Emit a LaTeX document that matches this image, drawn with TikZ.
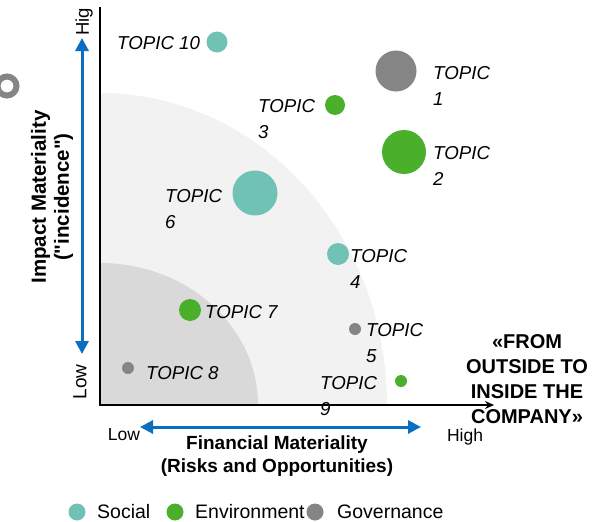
\documentclass[tikz,border=0pt]{standalone}
\usepackage{fontspec}
\setmainfont{Liberation Sans}[Ligatures=TeXOff]
\usetikzlibrary{arrows.meta}
\definecolor{socialc}{HTML}{70C2B4}
\definecolor{envc}{HTML}{4AB02C}
\definecolor{govc}{HTML}{858585}
\definecolor{zoneA}{HTML}{F2F2F2}
\definecolor{zoneB}{HTML}{D9D9D9}
\definecolor{axisblue}{HTML}{0A6FC2}
\begin{document}
\begin{tikzpicture}[x=1pt,y=-1pt,
  bub/.style={circle,inner sep=0pt,draw=none},
  topiclbl/.style={font=\fontsize{18.7}{26}\selectfont\itshape,inner sep=0pt,align=left,anchor=west},
  ticklbl/.style={font=\fontsize{17.5}{20}\selectfont,inner sep=0pt},
  titlelbl/.style={font=\fontsize{19}{23}\selectfont\bfseries,inner sep=0pt,align=center},
  bluearrow/.style={draw=axisblue,line width=3pt,{Triangle[length=13pt,width=13pt]}-{Triangle[length=13pt,width=13pt]}},
  legendtxt/.style={font=\fontsize{19.5}{22}\selectfont,inner sep=0pt,anchor=west}]
\useasboundingbox (0,0) rectangle (608,522);
% zones
\begin{scope}
  \clip (100,0) rectangle (608,405);
  \fill[zoneA] (100,405) ellipse [x radius=287, y radius=312];
  \fill[zoneB] (100,405) ellipse [x radius=158, y radius=142];
\end{scope}
% ring at left
\draw[govc,line width=6pt] (7,86) circle [radius=9.5];
% axes
\coordinate (ytop) at (100,7);
\coordinate (orig) at (100,405);
\coordinate (xend) at (494,405);
\draw[line width=1.3pt,-{Stealth[length=9pt,width=8pt]}] (ytop) -- (orig) -- (xend);
% blue arrows
\coordinate (vb1) at (82,38);
\coordinate (vb2) at (82,354);
\draw[bluearrow] (vb1) -- (vb2);
\coordinate (hb1) at (140,427);
\coordinate (hb2) at (421,427);
\draw[bluearrow] (hb1) -- (hb2);
% tick labels
\node[ticklbl,font=\fontsize{18.5}{20}\selectfont,rotate=90] (hig) at (84,22) {Hig};
\node[ticklbl,font=\fontsize{19}{20}\selectfont,rotate=90] (lowy) at (80,382) {Low};
\node[ticklbl] (lowx) at (124,435) {Low};
\node[ticklbl] (highx) at (465,437) {High};
% titles
\node[titlelbl] (fin) at (277,456) {Financial Materiality\\(Risks and Opportunities)};
\node[titlelbl,font=\fontsize{20.5}{23}\selectfont\bfseries,rotate=90] (imp) at (52,197) {Impact Materiality\\("incidence")};
\node[font=\fontsize{20}{25}\selectfont\bfseries,inner sep=0pt,align=center] (fromout) at (527,379) {«FROM\\OUTSIDE TO\\INSIDE THE\\COMPANY»};
% bubbles
\node[bub,fill=socialc,minimum size=21pt] (b10) at (217,42) {};
\node[bub,fill=govc,minimum size=41pt] (b1) at (396,71) {};
\node[bub,fill=envc,minimum size=20pt] (b3) at (335,105) {};
\node[bub,fill=envc,minimum size=44pt] (b2) at (404,152) {};
\node[bub,fill=socialc,minimum size=45pt] (b6) at (255,193) {};
\node[bub,fill=socialc,minimum size=22pt] (b4) at (338,254) {};
\node[bub,fill=envc,minimum size=22pt] (b7) at (190,310) {};
\node[bub,fill=govc,minimum size=12pt] (b5) at (355,329) {};
\node[bub,fill=govc,minimum size=12pt] (b8) at (128,368) {};
\node[bub,fill=envc,minimum size=12pt] (b9) at (401,381) {};
% topic labels
\node[topiclbl] (l10) at (117,43) {TOPIC 10};
\node[topiclbl] (l1) at (433,86) {TOPIC\\1};
\node[topiclbl] (l3) at (258,119) {TOPIC\\3};
\node[topiclbl] (l2) at (433,166) {TOPIC\\2};
\node[topiclbl] (l6) at (165,209) {TOPIC\\6};
\node[topiclbl] (l4) at (350,269) {TOPIC\\4};
\node[topiclbl] (l7) at (205,312) {TOPIC 7};
\node[topiclbl] (l5) at (366,343) {TOPIC\\5};
\node[topiclbl] (l8) at (146,373) {TOPIC 8};
\node[topiclbl] (l9) at (320,396) {TOPIC\\9};
% legend
\node[bub,fill=socialc,minimum size=17pt] (lg1) at (77,512) {};
\node[legendtxt] (lt1) at (97,512) {Social};
\node[bub,fill=envc,minimum size=17pt] (lg2) at (175,512) {};
\node[legendtxt] (lt2) at (195,512) {Environment};
\node[bub,fill=govc,minimum size=17pt] (lg3) at (315,512) {};
\node[legendtxt] (lt3) at (337,512) {Governance};
\end{tikzpicture}
\end{document}
